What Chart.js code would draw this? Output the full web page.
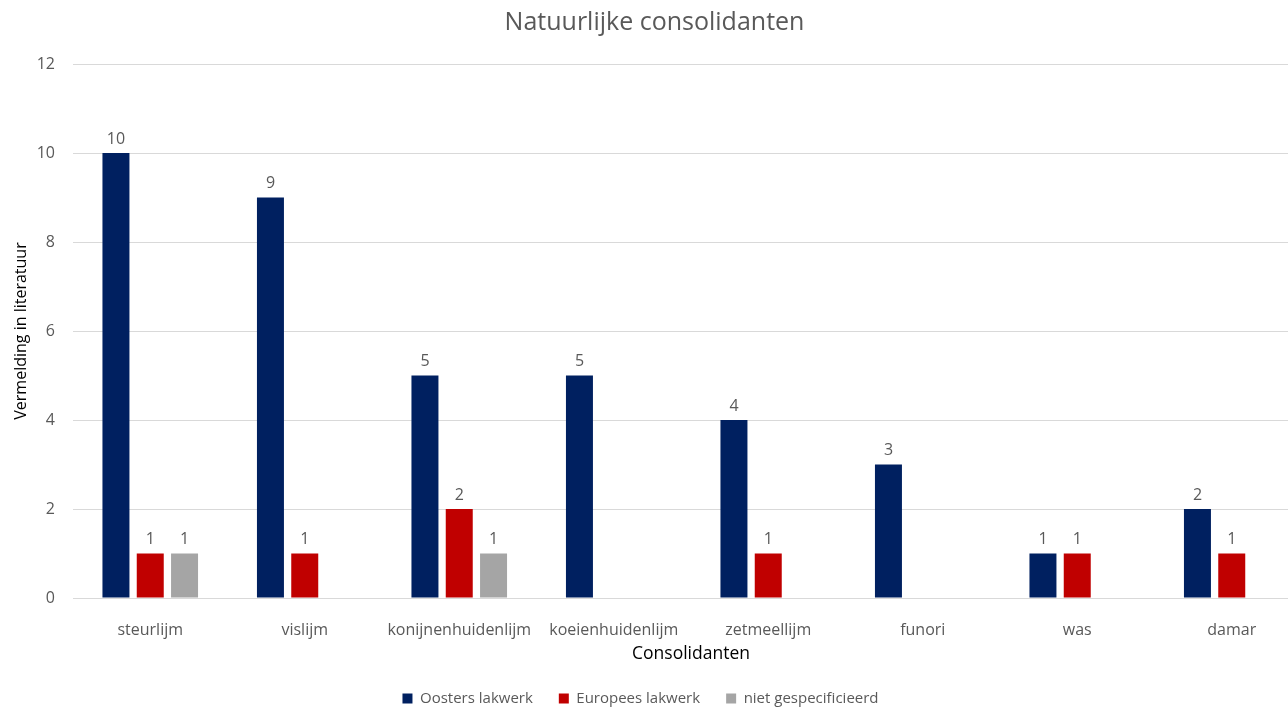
<!DOCTYPE html>
<html>
<head>
<meta charset="utf-8">
<script src="https://cdn.jsdelivr.net/npm/chart.js@4/dist/chart.umd.min.js"></script>
<style>
  html, body { margin: 0; padding: 0; background: #ffffff; overflow: hidden; }
  #wrap { width: 1312px; height: 716px; }
</style>
</head>
<body>
<div id="wrap"><canvas id="c" width="1312" height="716"></canvas></div>
<script>
// Consolidants named in the literature, counted per lacquer tradition
const categories = ['steurlijm', 'vislijm', 'konijnenhuidenlijm', 'koeienhuidenlijm', 'zetmeellijm', 'funori', 'was', 'damar'];
const oostersLakwerk = [10, 9, 5, 5, 4, 3, 1, 2];
const europeesLakwerk = [1, 1, 2, null, 1, null, 1, 1];
const nietGespecificieerd = [1, null, 1, null, null, null, null, null];
const yTicks = [0, 2, 4, 6, 8, 10, 12];

const FONT = '"Open Sans", "Noto Sans", sans-serif';
const TEXT = '#595959';

// Writes each bar's value just above it
const valueLabels = {
  id: 'valueLabels',
  afterDatasetsDraw(chart) {
    const ctx = chart.ctx;
    ctx.save();
    ctx.font = '16px ' + FONT;
    ctx.fillStyle = TEXT;
    ctx.textAlign = 'center';
    ctx.textBaseline = 'middle';
    chart.data.datasets.forEach((ds, i) => {
      chart.getDatasetMeta(i).data.forEach((bar, j) => {
        const v = ds.data[j];
        if (v === null || v === undefined) return;
        ctx.fillText(String(v), bar.x, bar.y - 14);
      });
    });
    ctx.restore();
  }
};

// Nudges the legend row a little to the left of the canvas centre
const legendNudge = {
  id: 'legendNudge',
  afterLayout(chart) {
    const lg = chart.legend;
    if (!lg) return;
    lg.left -= 14;
    lg.right -= 14;
  }
};

new Chart(document.getElementById('c'), {
  type: 'bar',
  data: {
    labels: categories,
    datasets: [
      { label: 'Oosters lakwerk', data: oostersLakwerk, backgroundColor: '#002060' },
      { label: 'Europees lakwerk', data: europeesLakwerk, backgroundColor: '#C00000' },
      { label: 'niet gespecificieerd', data: nietGespecificieerd, backgroundColor: '#A5A5A5' }
    ]
  },
  options: {
    responsive: false,
    animation: false,
    layout: { padding: { left: 0, right: 3, top: 0, bottom: 0 } },
    datasets: {
      bar: { categoryPercentage: 0.666, barPercentage: 0.787, borderWidth: 0 }
    },
    plugins: {
      title: {
        display: true,
        text: 'Natuurlijke consolidanten',
        color: TEXT,
        font: { family: FONT, size: 25, weight: 'normal' },
        padding: { top: 8, bottom: 26 }
      },
      legend: {
        position: 'bottom',
        labels: {
          color: TEXT,
          font: { family: FONT, size: 15 },
          boxWidth: 10,
          boxHeight: 10,
          padding: 26
        }
      },
      tooltip: { enabled: false }
    },
    scales: {
      x: {
        grid: { display: false },
        border: { display: false },
        ticks: { color: TEXT, font: { family: FONT, size: 16 }, padding: 15, maxRotation: 0, autoSkip: false },
        title: {
          display: true,
          text: 'Consolidanten',
          color: '#000000',
          font: { family: FONT, size: 17.5 },
          padding: { top: 4, bottom: 0 }
        },
        afterFit(scale) { scale.height = 67; }
      },
      y: {
        min: 0,
        max: 12,
        afterBuildTicks(scale) { scale.ticks = yTicks.map(v => ({ value: v })); },
        grid: { color: '#D9D9D9', lineWidth: 1, drawTicks: false },
        border: { display: false },
        ticks: { color: TEXT, font: { family: FONT, size: 16 }, padding: 18 },
        title: {
          display: true,
          text: 'Vermelding in literatuur',
          color: '#000000',
          font: { family: FONT, size: 16 },
          padding: { top: 12, bottom: 0 }
        },
        afterFit(scale) { scale.width = 73; }
      }
    }
  },
  plugins: [valueLabels, legendNudge]
});
</script>
</body>
</html>
